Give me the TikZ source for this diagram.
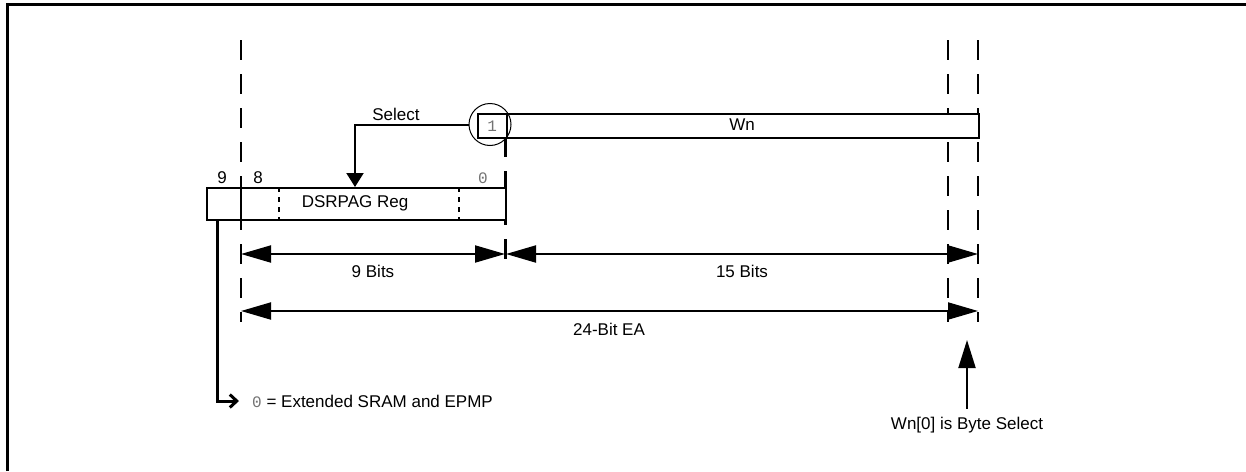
\documentclass[tikz,border=0pt]{standalone}
\usepackage{fontspec}
\setmainfont{Liberation Sans}
\newfontfamily\monofont{Liberation Mono}
\usetikzlibrary{arrows.meta}
\begin{document}
\begin{tikzpicture}[x=1pt,y=-1pt,
  lbl/.style={font=\fontsize{17}{20}\selectfont, inner sep=0pt},
  mono/.style={font=\fontsize{16}{18}\monofont, text=black!55, inner sep=0pt},
  reg/.style={draw, line width=2pt, inner sep=0pt, anchor=north west},
  guide/.style={line width=2.5pt, dash pattern=on 20pt off 14pt},
  celldiv/.style={line width=1.5pt, dash pattern=on 5pt off 5pt},
  bigtip/.style={Triangle[length=30pt,width=17pt]},
  dimline/.style={line width=2pt, {Triangle[length=30pt,width=17pt]}-{Triangle[length=30pt,width=17pt]}},
  ptr/.style={line width=2pt, -{Triangle[length=28pt,width=17pt]}}
]
\useasboundingbox (0,0) rectangle (1246,471);
% frame
\draw[line width=3pt] (7,471) -- (7,4.5) -- (1246,4.5);

% guide coordinates
\coordinate (gAt) at (241,40);   \coordinate (gAb) at (241,322);
\coordinate (gBt) at (505.5,113); \coordinate (gBb) at (505.5,268);
\coordinate (gCt) at (948,40);   \coordinate (gCb) at (948,322);
\coordinate (gDt) at (978,40);   \coordinate (gDb) at (978,322);
\draw[guide] (gAt) -- (gAb);
\draw[guide, dash phase=10pt] (gBt) -- (gBb);
\draw[guide] (gCt) -- (gCb);
\draw[guide] (gDt) -- (gDb);

% Wn register
\node[reg, fill=white, minimum width=501pt, minimum height=24pt] (wn) at (477,113) {};
\node[reg, minimum width=28.5pt, minimum height=24pt] (b1) at (477,113) {};
\node[mono] (one) at (b1.center) {1};
\node[lbl] (wnlbl) at (742,125) {Wn};
\node[draw, circle, line width=1pt, minimum size=42pt, inner sep=0pt] (sel) at (490,124.5) {};

% DSRPAG register
\node[reg, fill=white, minimum width=299pt, minimum height=32pt] (ds) at (206,187) {};
\coordinate (dvA1) at (279,187); \coordinate (dvA2) at (279,219);
\coordinate (dvB1) at (459,187); \coordinate (dvB2) at (459,219);
\draw[celldiv] (dvA1) -- (dvA2);
\draw[celldiv] (dvB1) -- (dvB2);
\draw[line width=2.5pt] (241,187) -- (241,219);
\node[lbl] (dslbl) at (355,203) {DSRPAG Reg};
\node[lbl] (bit9) at (222,178) {9};
\node[lbl] (bit8) at (258,178) {8};
\node[mono] (bit0) at (483,178) {0};

% Select
\node[lbl] (sellbl) at (396,114) {Select};
\coordinate (selhit) at (355,187);
\draw[line width=2pt, -{Triangle[length=14pt,width=17pt]}] (sel.west) -| (selhit);

% dimensions
\coordinate (d9l) at (241,254); \coordinate (d9r) at (505,254);
\coordinate (d15l) at (506,254); \coordinate (d15r) at (978,254);
\coordinate (dEl) at (241,311); \coordinate (dEr) at (978,311);
\draw[dimline] (d9l) -- (d9r);
\draw[dimline] (d15l) -- (d15r);
\draw[dimline] (dEl) -- (dEr);
\node[lbl] (l9) at (373,271) {9 Bits};
\node[lbl] (l15) at (742,271) {15 Bits};
\node[lbl] (lE) at (609,329) {24-Bit EA};

% bit 9 output
\coordinate (b9) at (217,219);
\node[lbl, anchor=west] (ext) at (252,401) {{\monofont\fontsize{16}{18}\selectfont\color{black!55}0} = Extended SRAM and EPMP};
\draw[line width=3pt, -{Straight Barb[length=7pt,width=13pt]}] (b9) |- ([xshift=-13pt]ext.west);

% byte select
\node[lbl] (byte) at (967,425) {Wn[0] is Byte Select};
\coordinate (bytetip) at (967,340);
\draw[ptr] ([yshift=8pt]byte.north) -- (bytetip);
\end{tikzpicture}
\end{document}
